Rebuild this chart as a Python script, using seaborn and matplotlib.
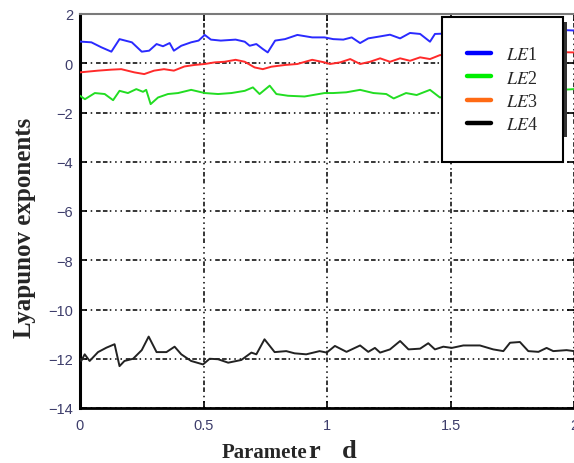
import matplotlib
matplotlib.use("Agg")
import matplotlib.pyplot as plt
from matplotlib.lines import Line2D
from matplotlib.patches import Rectangle
import seaborn as sns
import pandas as pd

# ---------------- data ----------------
le1_x = [0.0, 0.046, 0.086, 0.127, 0.16, 0.21, 0.25, 0.28, 0.31, 0.336, 0.363, 0.38, 0.41,
         0.45, 0.48, 0.505, 0.53, 0.57, 0.63, 0.667, 0.687, 0.714, 0.74, 0.76, 0.79, 0.83,
         0.88, 0.94, 0.99, 1.025, 1.066, 1.10, 1.134, 1.167, 1.215, 1.255, 1.296, 1.336,
         1.377, 1.417, 1.437, 1.464, 1.55, 1.65, 1.75, 1.85, 1.95, 2.0]
le1_y = [0.88, 0.85, 0.65, 0.47, 0.98, 0.85, 0.47, 0.51, 0.78, 0.69, 0.82, 0.51, 0.71,
         0.85, 0.92, 1.15, 0.96, 0.92, 0.96, 0.875, 0.71, 0.78, 0.58, 0.44, 0.92, 0.98,
         1.15, 1.05, 1.05, 0.98, 0.96, 1.05, 0.82, 1.01, 1.09, 1.16, 1.01, 1.23,
         1.19, 0.875, 1.19, 1.2, 1.25, 1.2, 1.3, 1.25, 1.35, 1.33]

le2_x = [0.0, 0.02, 0.06, 0.10, 0.134, 0.16, 0.194, 0.228, 0.255, 0.268, 0.286, 0.316, 0.356,
         0.397, 0.45, 0.505, 0.559, 0.613, 0.667, 0.70, 0.727, 0.768, 0.795, 0.842, 0.909,
         0.99, 1.025, 1.078, 1.134, 1.188, 1.24, 1.27, 1.32, 1.363, 1.417, 1.457, 1.55,
         1.65, 1.75, 1.85, 1.95, 2.0]
le2_y = [-1.32, -1.46, -1.21, -1.25, -1.50, -1.12, -1.21, -1.05, -1.16, -1.08, -1.66, -1.39,
         -1.25, -1.21, -1.08, -1.21, -1.25, -1.21, -1.12, -0.98, -1.25, -0.91, -1.25, -1.32,
         -1.35, -1.21, -1.21, -1.18, -1.08, -1.21, -1.25, -1.43, -1.21, -1.29, -1.08, -1.39,
         -1.2, -1.15, -1.25, -1.1, -1.08, -1.05]

le3_x = [0.0, 0.073, 0.127, 0.167, 0.22, 0.26, 0.30, 0.34, 0.38, 0.423, 0.463, 0.505, 0.545,
         0.585, 0.63, 0.667, 0.707, 0.74, 0.775, 0.83, 0.88, 0.94, 0.99, 1.012, 1.053, 1.094,
         1.134, 1.174, 1.215, 1.255, 1.296, 1.336, 1.377, 1.417, 1.457, 1.55, 1.65, 1.75,
         1.85, 1.95, 2.0]
le3_y = [-0.37, -0.30, -0.26, -0.24, -0.37, -0.44, -0.30, -0.24, -0.30, -0.13, -0.07, -0.03,
         0.035, 0.06, 0.14, 0.06, -0.17, -0.24, -0.14, -0.07, -0.03, 0.14, 0.035, -0.03, 0.035,
         0.17, -0.03, 0.06, 0.2, 0.06, 0.2, 0.10, 0.24, 0.17, 0.33, 0.35, 0.3, 0.4, 0.38,
         0.45, 0.44]

le4_x = [0.0, 0.005, 0.019, 0.039, 0.073, 0.107, 0.14, 0.16, 0.18, 0.215, 0.25, 0.278, 0.31,
         0.35, 0.383, 0.41, 0.45, 0.498, 0.525, 0.559, 0.60, 0.653, 0.694, 0.714, 0.747,
         0.788, 0.835, 0.869, 0.916, 0.97, 0.999, 1.032, 1.079, 1.134, 1.167, 1.194, 1.215,
         1.255, 1.296, 1.33, 1.377, 1.41, 1.437, 1.471, 1.505, 1.552, 1.619, 1.673, 1.714,
         1.741, 1.781, 1.815, 1.856, 1.889, 1.916, 1.97, 2.0]
le4_y = [-12.0, -12.09, -11.82, -12.09, -11.73, -11.55, -11.41, -12.30, -12.09, -12.0, -11.65,
         -11.10, -11.73, -11.73, -11.51, -11.82, -12.09, -12.23, -12.0, -12.02, -12.16, -12.05,
         -11.75, -11.82, -11.21, -11.73, -11.69, -11.78, -11.82, -11.69, -11.75, -11.48,
         -11.72, -11.46, -11.72, -11.56, -11.75, -11.62, -11.28, -11.62, -11.59, -11.37,
         -11.62, -11.51, -11.56, -11.46, -11.46, -11.62, -11.69, -11.35, -11.32, -11.69,
         -11.72, -11.56, -11.69, -11.65, -11.69]

series_names = ["LE1", "LE2", "LE3", "LE4"]
x_ticks = [0, 0.5, 1, 1.5, 2]
x_tick_labels = ["0", "0.5", "1", "1.5", "2"]
y_ticks = [-14, -12, -10, -8, -6, -4, -2, 0, 2]
y_tick_labels = ["\u221214", "\u221212", "\u221210", "\u22128", "\u22126", "\u22124", "\u22122", "0", "2"]

# ---------------- figure ----------------
sns.set_style("white")
plt.rcParams["mathtext.fontset"] = "stix"

line_colors = {"LE1": "#2a2aff", "LE2": "#22dd22", "LE3": "#ff2a2a", "LE4": "#222222"}
legend_colors = ["#0000ff", "#00ee00", "#ff6a14", "#000000"]

frames = []
for name, xs, ys in zip(series_names, [le1_x, le2_x, le3_x, le4_x], [le1_y, le2_y, le3_y, le4_y]):
    frames.append(pd.DataFrame({"d": xs, "LE": ys, "series": name}))
df = pd.concat(frames, ignore_index=True)

fig = plt.figure(figsize=(5.74, 4.64), dpi=100)
ax = fig.add_axes([80 / 574, 1 - 409 / 464, 494 / 574, 394 / 464])

sns.lineplot(data=df, x="d", y="LE", hue="series", units="series", estimator=None,
             sort=False, palette=line_colors, linewidth=1.4, legend=False, ax=ax, zorder=3)

ax.set_xlim(0, 2)
ax.set_ylim(-14, 2)
ax.set_xticks(x_ticks)
ax.set_xticklabels(x_tick_labels)
ax.set_yticks(y_ticks)
ax.set_yticklabels(y_tick_labels)
ax.set_xlabel("")
ax.set_ylabel("")

tick_color = "#3d3d6b"
ax.tick_params(axis="both", which="both", direction="in", length=5, width=1.2,
               top=True, right=True, bottom=True, left=True, color="black",
               labelcolor=tick_color, labelsize=10.5)
ax.tick_params(axis="x", pad=7)
ax.tick_params(axis="y", pad=5)
for lab in ax.get_xticklabels() + ax.get_yticklabels():
    lab.set_fontfamily("Liberation Sans")

ax.grid(True, color="black", linewidth=1.1,
        linestyle=(0, (1, 2.5, 1, 2.5, 1, 2.5, 3, 1.5, 3, 1.5)))
ax.set_axisbelow(True)

ax.spines["left"].set_linewidth(2.2)
ax.spines["left"].set_color("black")
ax.spines["bottom"].set_linewidth(2.0)
ax.spines["bottom"].set_color("black")
ax.spines["top"].set_linewidth(1.5)
ax.spines["top"].set_color("#7a7a7a")
ax.spines["right"].set_visible(False)

# legend box with shadow
to_ax = lambda px, py: ((px - 80) / 494, (409 - py) / 394)
sx, sy = to_ax(563, 138)
ax.add_patch(Rectangle((sx, sy), 4 / 494, 115 / 394, transform=ax.transAxes,
                       facecolor="#333333", edgecolor="none", zorder=5, clip_on=False))
bx0, by0 = to_ax(442, 163)
ax.add_patch(Rectangle((bx0, by0), 121 / 494, 145 / 394, transform=ax.transAxes,
                       facecolor="white", edgecolor="black", linewidth=1.5, zorder=6))

handles = [Line2D([0], [0], color=c, linewidth=3.2) for c in legend_colors]
labels = [r"$\mathit{LE}$1", r"$\mathit{LE}$2", r"$\mathit{LE}$3", r"$\mathit{LE}$4"]
lx, ly = to_ax(467, 47)
leg = ax.legend(handles, labels, loc="upper left", bbox_to_anchor=(lx, ly),
                bbox_transform=ax.transAxes, frameon=False, borderpad=0, borderaxespad=0,
                handlelength=1.33, handletextpad=0.85, labelspacing=0.36,
                prop={"family": "Liberation Serif", "size": 13})
leg.set_zorder(7)

# axis labels
fig.text(25 / 574, 1 - 228 / 464, "Lyapunov exponents", rotation=90, ha="center",
         va="center", fontsize=18, fontweight="bold", family="Liberation Serif")
fig.text(221.7 / 574, 6 / 464, "Paramete", ha="left", va="baseline", fontsize=15,
         fontweight="bold", family="Liberation Serif")
fig.text(308.3 / 574, 6 / 464, "r", ha="left", va="baseline", fontsize=19,
         fontweight="bold", family="Liberation Serif")
fig.text(341.7 / 574, 6 / 464, "d", ha="left", va="baseline", fontsize=19,
         fontweight="bold", family="Liberation Serif")

fig.savefig("out.png", dpi=100)
